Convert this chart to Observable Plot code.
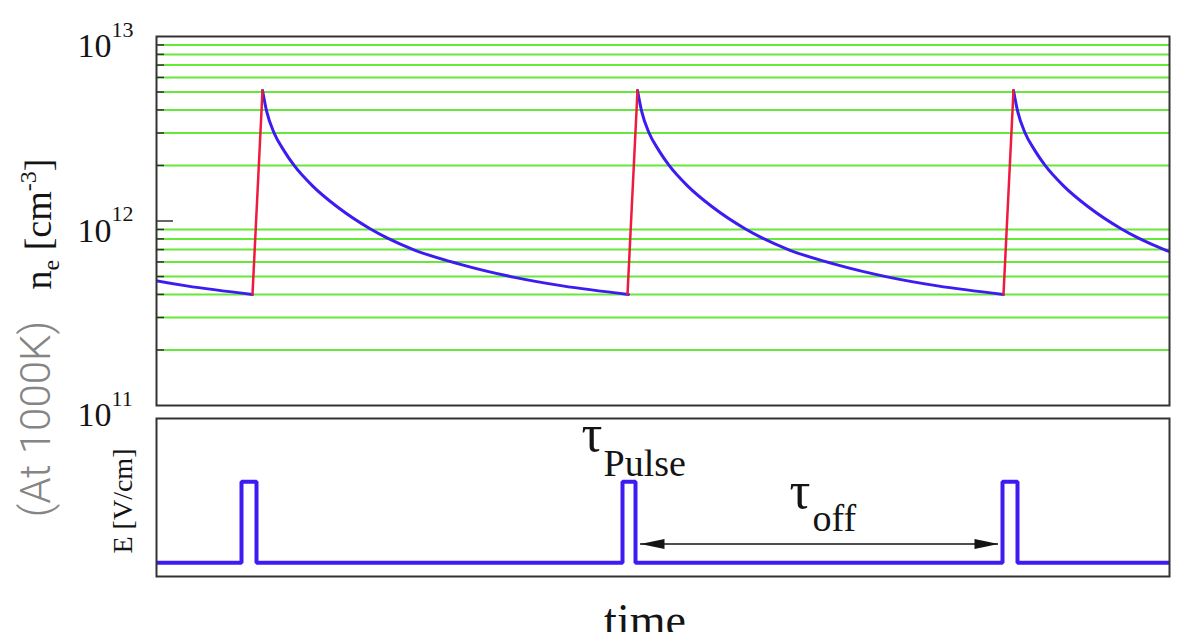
<!DOCTYPE html>
<html><head><meta charset="utf-8">
<script src="https://cdn.jsdelivr.net/npm/d3@7"></script>
<script src="https://cdn.jsdelivr.net/npm/@observablehq/plot@0.6"></script>
<style>
html,body{margin:0;padding:0;background:#fff;overflow:hidden}
#wrap{position:relative;width:1179px;height:632px;background:#fff;}
#wrap > svg{position:absolute;left:0;}
</style></head><body><div id="wrap"></div>
<script>
// ---------- data (time in arbitrary units, 0..tMax) ----------
const tMax = 1013;
// one decay profile of n_e after each pulse (time after peak, density cm^-3)
const decayDt = [0, 4.3, 11.6, 21.6, 31.6, 50, 75, 108, 125, 152, 197, 252, 300, 366];
const decayN  = [5.1e12, 3.9e12, 3.0e12, 2.4e12, 2.0e12, 1.55e12, 1.19e12, 9.05e11, 8.07e11, 6.96e11, 5.84e11, 4.95e11, 4.45e11, 4.0e11];
// peaks of n_e (first one lies before the visible window)
const peakTimes = [-270, 106, 481, 857];
// start of each rise (red segments)
const riseStarts = [96, 471, 847];
// field pulses
const pulseOn  = [85, 466, 846];
const pulseOff = [100, 479, 861];
const pulseE = 1;
// tau_off arrow
const tauOffFrom = 484, tauOffTo = 842, tauOffE = 0.23;
// annotations
const tauT = [425, 633], tauE = [1.38, 0.675];
const subText = ["Pulse", "off"], subT = [447, 656], subE = [1.07, 0.39];
// y axis
const decades = [1e11, 1e12, 1e13];
const decadeExp = ["11", "12", "13"];
const minorVals = [2e11,3e11,4e11,5e11,6e11,7e11,8e11,9e11,2e12,3e12,4e12,5e12,6e12,7e12,8e12,9e12];
const majorInner = [1e12];

// ---------- derived tables ----------
const blue = peakTimes.flatMap((p, c) => decayDt.map((d, i) => ({t: p + d, n: decayN[i], c})));
const red = riseStarts.flatMap((s, i) => [
  {t: s, n: decayN[decayN.length - 1], c: i},
  {t: peakTimes[i + 1], n: decayN[0], c: i}
]);
const eRows = [{t: 0, E: 0}];
pulseOn.forEach((on, i) => {
  eRows.push({t: on, E: 0}, {t: on, E: pulseE}, {t: pulseOff[i], E: pulseE}, {t: pulseOff[i], E: 0});
});
eRows.push({t: tMax, E: 0});

// ---------- styles ----------
const W = 1179, ML = 156, MR = 10, frameW = W - ML - MR;
const SERIF = "Liberation Serif, Times New Roman, serif";
const BLUE = "#3d1cf2", RED = "#ee1b3e", GREEN = "#66e83a", INK = "#141414", FRAME = "#333";
const arrowRight = {draw(ctx){ctx.moveTo(0,0);ctx.lineTo(-24,-5);ctx.lineTo(-24,5);ctx.closePath();}};
const arrowLeft  = {draw(ctx){ctx.moveTo(0,0);ctx.lineTo(24,-5);ctx.lineTo(24,5);ctx.closePath();}};

const wrap = document.getElementById("wrap");

const topPlot = Plot.plot({
  width: W, height: 432, marginTop: 36, marginBottom: 27, marginLeft: ML, marginRight: MR,
  style: {background: "transparent"},
  x: {domain: [0, tMax], axis: null},
  y: {type: "log", domain: [1e11, 1e13], axis: null},
  marks: [
    Plot.ruleY(minorVals, {stroke: GREEN, strokeWidth: 2}),
    Plot.line(blue, {x: "t", y: "n", z: "c", curve: "monotone-x", stroke: BLUE, strokeWidth: 3, clip: true}),
    Plot.line(red, {x: "t", y: "n", z: "c", stroke: RED, strokeWidth: 2.5, clip: true}),
    Plot.frame({stroke: FRAME, strokeWidth: 2}),
    Plot.tickY(minorVals, {stroke: FRAME, strokeWidth: 1.5, insetRight: frameW - 8}),
    Plot.tickY(majorInner, {stroke: FRAME, strokeWidth: 1.5, insetRight: frameW - 17}),
    Plot.text(decades, {y: d => d, text: () => "10", frameAnchor: "left", textAnchor: "end", dx: -45, dy: 10,
      fontFamily: SERIF, fontSize: 34, fill: INK}),
    Plot.text(decades, {y: d => d, text: (d, i) => decadeExp[i], frameAnchor: "left", textAnchor: "start", dx: -45, dy: -7,
      fontFamily: SERIF, fontSize: 22, fill: INK})
  ]
});
topPlot.style.top = "0px";
wrap.appendChild(topPlot);

const botPlot = Plot.plot({
  width: W, height: 252, marginTop: 38, marginBottom: 56, marginLeft: ML, marginRight: MR,
  style: {background: "transparent"},
  x: {domain: [0, tMax], axis: null},
  y: {domain: [-0.17, 1.78], axis: null},
  marks: [
    Plot.line(eRows, {x: "t", y: "E", stroke: BLUE, strokeWidth: 4, strokeLinejoin: "miter", clip: true}),
    Plot.ruleY([{y: tauOffE, x1: tauOffFrom, x2: tauOffTo}], {y: "y", x1: "x1", x2: "x2", stroke: INK, strokeWidth: 1.5}),
    Plot.dot([tauOffFrom], {x: d => d, y: () => tauOffE, symbol: arrowLeft, fill: INK, stroke: "none"}),
    Plot.dot([tauOffTo], {x: d => d, y: () => tauOffE, symbol: arrowRight, fill: INK, stroke: "none"}),
    Plot.text(tauT, {x: d => d, y: (d, i) => tauE[i], text: () => "τ", textAnchor: "start", lineAnchor: "bottom",
      fontFamily: SERIF, fontSize: 52, fill: INK}),
    Plot.text(subText, {x: (d, i) => subT[i], y: (d, i) => subE[i], text: d => d, textAnchor: "start", lineAnchor: "bottom",
      fontFamily: SERIF, fontSize: 38, fill: INK}),
    Plot.frame({stroke: FRAME, strokeWidth: 2})
  ]
});
botPlot.style.top = "380px";
wrap.appendChild(botPlot);

// ---------- outer labels ----------
const ov = d3.select(wrap).append("svg").attr("width", W).attr("height", 632)
  .style("position", "absolute").style("top", "0px").style("pointer-events", "none");

const ne = ov.append("text").attr("transform", "translate(51,224) rotate(-90)")
  .attr("text-anchor", "middle").attr("font-family", SERIF).attr("font-size", 38).attr("fill", INK);
ne.append("tspan").text("n");
ne.append("tspan").attr("font-size", 24).attr("dy", 8).text("e");
ne.append("tspan").attr("dy", -8).text(" [cm");
ne.append("tspan").attr("font-size", 24).attr("dy", -15).text("-3");
ne.append("tspan").attr("dy", 15).text("]");

ov.append("text").attr("transform", "translate(50,419) rotate(-90)")
  .attr("text-anchor", "middle").attr("font-family", "Roboto, sans-serif").attr("font-weight", 300)
  .attr("font-size", 42).attr("fill", "#858585").text("(At 1000K)");

ov.append("text").attr("transform", "translate(132,501) rotate(-90)")
  .attr("text-anchor", "middle").attr("font-family", SERIF).attr("font-size", 28).attr("fill", INK).text("E [V/cm]");

ov.append("text").attr("x", 645).attr("y", 636)
  .attr("text-anchor", "middle").attr("font-family", SERIF).attr("font-size", 46).attr("fill", INK).text("time");
</script></body></html>
